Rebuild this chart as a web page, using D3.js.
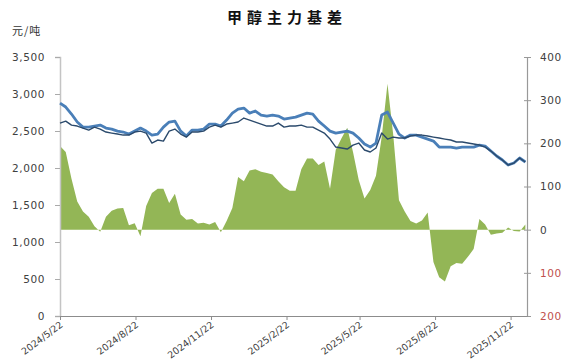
<!DOCTYPE html>
<html>
<head>
<meta charset="utf-8">
<script src="https://cdn.jsdelivr.net/npm/d3@7"></script>
<style>
  body { margin: 0; background: #fff; }
  svg text { font-family: "DejaVu Sans", Verdana, sans-serif; }
</style>
</head>
<body>
<div id="chart"></div>
<script>
// weekly samples
var dates = [
  "2024-05-22","2024-05-29","2024-06-05","2024-06-12","2024-06-19","2024-06-26","2024-07-03","2024-07-10",
  "2024-07-17","2024-07-24","2024-07-31","2024-08-07","2024-08-14","2024-08-21","2024-08-28","2024-09-04",
  "2024-09-11","2024-09-18","2024-09-25","2024-10-02","2024-10-09","2024-10-16","2024-10-23","2024-10-30",
  "2024-11-06","2024-11-13","2024-11-20","2024-11-27","2024-12-04","2024-12-11","2024-12-18","2024-12-25",
  "2025-01-01","2025-01-08","2025-01-15","2025-01-22","2025-01-29","2025-02-05","2025-02-12","2025-02-19",
  "2025-02-26","2025-03-05","2025-03-12","2025-03-19","2025-03-26","2025-04-02","2025-04-09","2025-04-16",
  "2025-04-23","2025-04-30","2025-05-07","2025-05-14","2025-05-21","2025-05-28","2025-06-04","2025-06-11",
  "2025-06-18","2025-06-25","2025-07-02","2025-07-09","2025-07-16","2025-07-23","2025-07-30","2025-08-06",
  "2025-08-13","2025-08-20","2025-08-27","2025-09-03","2025-09-10","2025-09-17","2025-09-24","2025-10-01",
  "2025-10-08","2025-10-15","2025-10-22","2025-10-29","2025-11-05","2025-11-12","2025-11-19","2025-11-26",
  "2025-12-03","2025-12-10"
];

// thick line (spot), 元/吨
var spot = [
  2878,2824,2729,2621,2553,2553,2567,2580,2540,2526,2499,2486,2459,2499,2540,2499,
  2445,2459,2553,2621,2634,2499,2432,2513,2513,2526,2594,2594,2567,2648,2742,2796,
  2810,2742,2770,2715,2702,2715,2702,2661,2675,2688,2715,2742,2729,2634,2567,2499,
  2472,2486,2499,2472,2405,2324,2283,2337,2715,2756,2607,2459,2405,2445,2445,2418,
  2391,2364,2283,2283,2283,2270,2283,2283,2283,2310,2297,2229,2162,2108,2040,2067,
  2135,2081
];

// thin line (futures main contract), 元/吨
var futures = [
  2607,2634,2580,2567,2540,2513,2553,2526,2486,2472,2459,2445,2445,2486,2499,2472,
  2337,2378,2364,2499,2526,2459,2418,2486,2486,2499,2553,2580,2553,2594,2607,2621,
  2675,2648,2621,2594,2567,2567,2607,2553,2567,2567,2580,2553,2553,2513,2472,2391,
  2283,2270,2256,2310,2337,2243,2216,2270,2472,2391,2418,2405,2405,2432,2445,2445,
  2432,2418,2405,2391,2378,2351,2351,2337,2324,2310,2283,2229,2162,2108,2040,2067,
  2135,2081
];

// basis area, right axis
var basis = [
  194,180,118,65,42,30,8,-5,30,44,49,50,10,15,-15,55,
  85,95,95,62,83,35,23,25,14,16,12,18,-6,20,50,122,
  112,137,140,134,131,128,112,98,90,90,140,165,165,150,158,95,
  185,212,236,180,115,72,92,125,215,338,220,68,42,20,14,21,
  40,-75,-110,-120,-85,-77,-79,-63,-45,25,12,-12,-9,-7,5,-3,
  -4,12
];

var leftTicks = [0, 500, 1000, 1500, 2000, 2500, 3000, 3500];
var rightTicks = [-200, -100, 0, 100, 200, 300, 400];
var xTickDates = ["2024-05-22","2024-08-22","2024-11-22","2025-02-22","2025-05-22","2025-08-22","2025-11-22"];

var svgWidth = 572;
var svgHeight = 363;
var margin = { top: 57, right: 45, bottom: 47, left: 60 };
var width = svgWidth - margin.left - margin.right;
var height = svgHeight - margin.top - margin.bottom;

var parse = d3.timeParse("%Y-%m-%d");
var rows = dates.map(function(d, i) {
  return { date: parse(d), spot: spot[i], futures: futures[i], basis: basis[i] };
});

var svg = d3.select("#chart")
  .append("svg")
  .attr("width", svgWidth)
  .attr("height", svgHeight);

var chartGroup = svg.append("g")
  .attr("transform", `translate(${margin.left}, ${margin.top})`);

var x = d3.scaleTime()
  .domain([parse("2024-05-22"), parse("2025-12-12")])
  .range([0, width]);

var yLeft = d3.scaleLinear().domain([0, 3500]).range([height, 0]);
var yRight = d3.scaleLinear().domain([-200, 400]).range([height, 0]);

// basis area
var area = d3.area()
  .x(d => x(d.date))
  .y0(yRight(0))
  .y1(d => yRight(d.basis));

chartGroup.append("path")
  .datum(rows)
  .attr("d", area)
  .attr("fill", "#93b656");

// left axis
var leftAxis = d3.axisLeft(yLeft)
  .tickValues(leftTicks)
  .tickSize(5)
  .tickPadding(10)
  .tickFormat(d3.format(","));

var gl = chartGroup.append("g").call(leftAxis);
gl.select(".domain").attr("stroke", "#c4c4c4").attr("stroke-width", 1.5);
gl.selectAll(".tick line").attr("stroke", "#aaa");
gl.selectAll(".tick text")
  .attr("fill", "#404040")
  .style("font-size", "10.5px")
  .style("letter-spacing", "0.6px");

// right axis, negatives shown in red without sign
var rightAxis = d3.axisRight(yRight)
  .tickValues(rightTicks)
  .tickSize(4)
  .tickPadding(9)
  .tickFormat(d => d3.format(",")(Math.abs(d)));

var gr = chartGroup.append("g")
  .attr("transform", `translate(${width}, 0)`)
  .call(rightAxis);
gr.select(".domain").attr("stroke", "#999").attr("stroke-width", 1.2);
gr.selectAll(".tick line").attr("stroke", "#999").attr("x1", -3);
gr.selectAll(".tick text")
  .attr("fill", d => d < 0 ? "#c0504d" : "#404040")
  .style("font-size", "10.5px")
  .style("letter-spacing", "0.6px");

// bottom axis
var bottomAxis = d3.axisBottom(x)
  .tickValues(xTickDates.map(parse))
  .tickSize(4)
  .tickSizeOuter(0)
  .tickFormat(d3.timeFormat("%Y/%-m/%-d"));

var gb = chartGroup.append("g")
  .attr("transform", `translate(0, ${height})`)
  .call(bottomAxis);
gb.select(".domain").attr("stroke", "#8c8c8c").attr("stroke-width", 1.2);
gb.selectAll(".tick line").attr("stroke", "#8c8c8c");
gb.selectAll(".tick text")
  .attr("fill", "#404040")
  .style("font-size", "9.5px")
  .style("text-anchor", "end")
  .attr("dy", null)
  .attr("y", 0)
  .attr("transform", "translate(3, 10) rotate(-37)");

// lines
var lineSpot = d3.line().x(d => x(d.date)).y(d => yLeft(d.spot));
var lineFut = d3.line().x(d => x(d.date)).y(d => yLeft(d.futures));

chartGroup.append("path")
  .datum(rows)
  .attr("d", lineSpot)
  .attr("fill", "none")
  .attr("stroke", "#4a7fb8")
  .attr("stroke-width", 2.8)
  .attr("stroke-linejoin", "round");

chartGroup.append("path")
  .datum(rows)
  .attr("d", lineFut)
  .attr("fill", "none")
  .attr("stroke", "#2b4a6c")
  .attr("stroke-width", 1.4)
  .attr("stroke-linejoin", "round");

// title and unit
svg.append("text")
  .attr("x", 287)
  .attr("y", 23)
  .attr("text-anchor", "middle")
  .style("font-family", "'Noto Sans CJK SC', sans-serif")
  .style("font-size", "15px")
  .style("font-weight", "bold")
  .style("letter-spacing", "5px")
  .attr("fill", "#111")
  .text("甲醇主力基差");

svg.append("text")
  .attr("x", 12)
  .attr("y", 35)
  .style("font-family", "'Noto Sans CJK SC', sans-serif")
  .style("font-size", "11px")
  .style("letter-spacing", "1px")
  .attr("fill", "#333")
  .text("元/吨");
</script>
</body>
</html>
